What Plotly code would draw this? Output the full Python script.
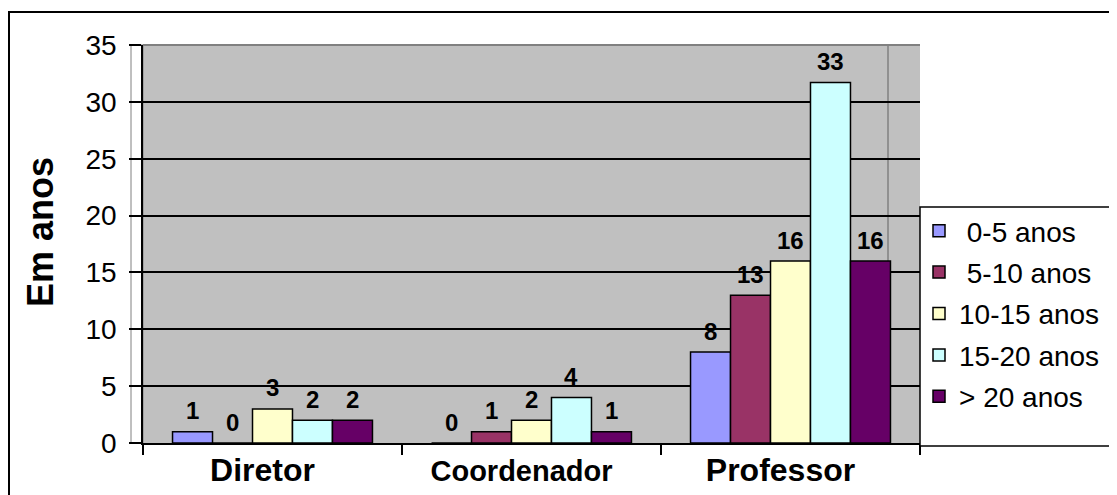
import plotly.graph_objects as go

categories = ["Diretor", "Coordenador", "Professor"]
category_font_sizes = [32, 29, 32]
series_names = [" 0-5 anos", " 5-10 anos", "10-15 anos", "15-20 anos", "> 20 anos"]
series_colors = ["#9999FF", "#993366", "#FFFFCC", "#CCFFFF", "#660066"]

# bar heights as drawn
v_0_5 = [1, 0, 8]
v_5_10 = [0, 1, 13]
v_10_15 = [3, 2, 16]
v_15_20 = [2, 4, 31.7]
v_20p = [2, 1, 16]
values = [v_0_5, v_5_10, v_10_15, v_15_20, v_20p]

# data labels as printed
l_0_5 = ["1", "0", "8"]
l_5_10 = ["0", "1", "13"]
l_10_15 = ["3", "2", "16"]
l_15_20 = ["2", "4", "33"]
l_20p = ["2", "1", "16"]
labels = [l_0_5, l_5_10, l_10_15, l_15_20, l_20p]

y_ticks = [0, 5, 10, 15, 20, 25, 30, 35]

FONT = "Liberation Sans, Arial, sans-serif"

# the page body has an 8px margin; work in screen pixels and convert
OFF = 8
W, H = 1117 - OFF, 495 - OFF
SL, SR, ST, SB = 143, 920, 45, 443   # plot area in screen pixels
L, T = SL - OFF, ST - OFF
R = W - (SR - OFF)
B = H - (SB - OFF)
pw, ph = SR - SL, SB - ST


def px_x(sx):
    return (sx - SL) / pw


def px_y(sy):
    return (SB - sy) / ph


n_series = len(series_names)
bargap = 0.228
bar_px = pw / len(categories) * (1 - bargap) / n_series

fig = go.Figure()
annotations = []
for i, name in enumerate(series_names):
    fig.add_trace(go.Bar(
        x=categories, y=values[i], name=name,
        marker=dict(color=series_colors[i], line=dict(color="black", width=1.5)),
        cliponaxis=False, legendgroup=f"g{i}",
    ))
    for c, v, t in zip(categories, values[i], labels[i]):
        annotations.append(dict(
            x=c, y=v, xref="x", yref="y", text=f"<b>{t}</b>", showarrow=False,
            xshift=(i - (n_series - 1) / 2) * bar_px, yshift=21,
            yanchor="middle", xanchor="center",
            font=dict(family=FONT, size=24, color="black"),
        ))

annotations.append(dict(
    text="<b>Em anos</b>", xref="paper", yref="paper",
    x=px_x(40), y=px_y(232), textangle=-90, showarrow=False,
    font=dict(family=FONT, size=36, color="black"),
    xanchor="center", yanchor="middle",
))

shapes = [
    # outer chart border (left + top visible)
    dict(type="rect", xref="paper", yref="paper",
         x0=px_x(9), x1=px_x(1130), y0=px_y(510), y1=px_y(12),
         line=dict(color="black", width=2), fillcolor="rgba(0,0,0,0)", layer="below"),
    # white side wall strip
    dict(type="rect", xref="paper", yref="paper",
         x0=px_x(131), x1=0, y0=0, y1=1,
         line=dict(color="#808080", width=1), fillcolor="white", layer="below"),
    # right gray strip without gridlines
    dict(type="rect", xref="paper", yref="paper",
         x0=px_x(910), x1=1, y0=0, y1=1,
         line=dict(width=0), fillcolor="#C0C0C0", layer="between"),
    # gray wall edge line
    dict(type="line", xref="paper", yref="paper",
         x0=px_x(888), x1=px_x(888), y0=0, y1=1,
         line=dict(color="#808080", width=1.5), layer="between"),
    # top edge gray
    dict(type="line", xref="paper", yref="paper",
         x0=0, x1=1, y0=1, y1=1,
         line=dict(color="#808080", width=2), layer="between"),
    # legend box
    dict(type="rect", xref="paper", yref="paper",
         x0=px_x(920), x1=px_x(1115), y0=px_y(446), y1=px_y(207),
         line=dict(color="black", width=1.5), fillcolor="white", layer="above"),
]

fig.update_layout(
    width=W, height=H,
    margin=dict(l=L, r=R, t=T, b=B, autoexpand=False),
    paper_bgcolor="white", plot_bgcolor="#C0C0C0",
    font=dict(family=FONT, color="black"),
    barmode="group", bargap=bargap, bargroupgap=0.0,
    showlegend=True,
    legend=dict(
        x=px_x(919), xanchor="left", y=px_y(206), yanchor="top",
        bgcolor="rgba(0,0,0,0)", borderwidth=0,
        font=dict(family=FONT, size=28, color="black"),
        tracegroupgap=2, itemwidth=30,
    ),
    shapes=shapes,
    annotations=annotations,
)

fig.update_xaxes(
    type="category", tickson="boundaries", ticks="outside", ticklen=10,
    tickcolor="black", tickwidth=1.5,
    showline=True, linecolor="black", linewidth=1.5,
    tickvals=categories,
    ticktext=[f'<span style="font-size:{s}px"><b>{c}</b></span>'
              for c, s in zip(categories, category_font_sizes)],
    tickfont=dict(family=FONT, size=30, color="black"),
    ticklabelshift=-10,
    showgrid=False,
)
fig.update_yaxes(
    range=[0, 35], tickvals=y_ticks, ticks="outside", ticklen=12,
    tickcolor="black", tickwidth=1.5, ticklabelstandoff=7,
    showline=True, linecolor="black", linewidth=1.5,
    showgrid=True, gridcolor="black", gridwidth=1.5,
    tickfont=dict(family=FONT, size=28, color="black"),
    zeroline=False,
)

fig.write_html("out.html")
